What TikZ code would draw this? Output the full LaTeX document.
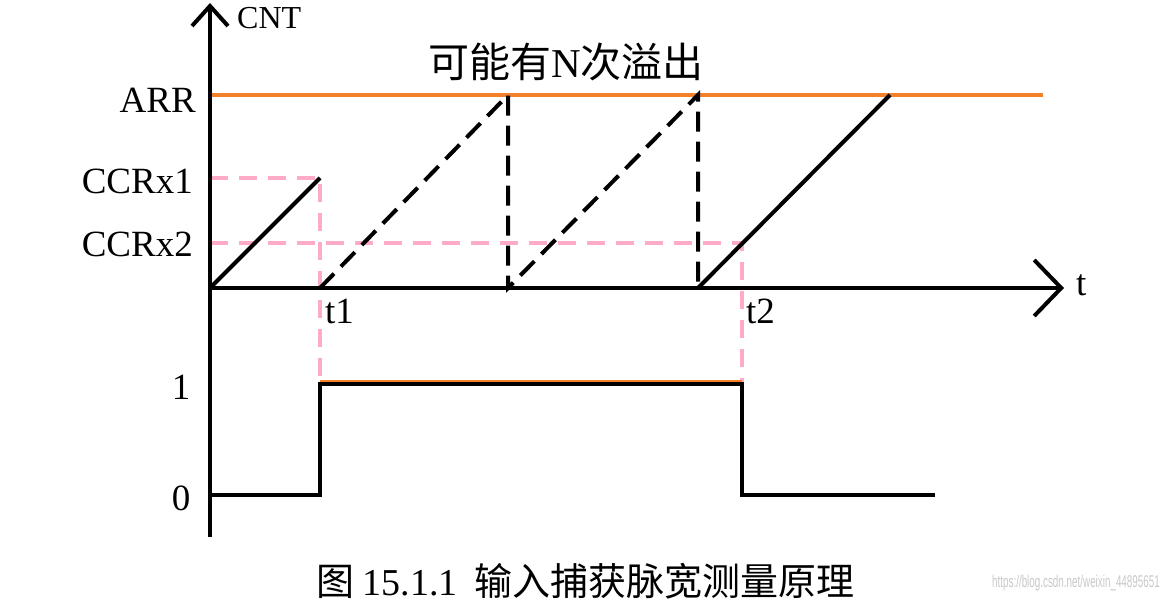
\documentclass[tikz,border=0pt]{standalone}
\usepackage{fontspec}
\setmainfont{Liberation Serif}
\newfontfamily\cjk{Noto Sans CJK SC}
\newfontfamily\wmfont{Liberation Sans}
\usetikzlibrary{arrows.meta}
\definecolor{arrorange}{RGB}{244,128,44}
\definecolor{pinkdash}{RGB}{255,170,200}
\definecolor{wmgray}{RGB}{200,200,200}
\tikzset{
  axisline/.style={line width=4pt, black},
  ramp/.style={line width=4pt, black},
  rampdash/.style={line width=4pt, black, dash pattern=on 20pt off 10pt},
  pinkline/.style={line width=3.5pt, pinkdash, dash pattern=on 18pt off 11pt},
  arrline/.style={line width=3.5pt, arrorange},
  sig/.style={line width=4pt, black, line join=miter},
  lab/.style={font=\fontsize{37}{40}\selectfont, inner sep=0pt},
  cjklab/.style={font=\cjk\fontsize{38}{42}\selectfont, inner sep=0pt},
}
\begin{document}
\begin{tikzpicture}[x=1pt,y=-1pt]
\useasboundingbox (0,0) rectangle (1168,612);
% key coordinates
\coordinate (ybot) at (210,537);
\coordinate (ytop) at (210,3);
\coordinate (org) at (210,288);
\coordinate (xend) at (1064,288);
\coordinate (arrL) at (210,95);
\coordinate (arrR) at (1043,95);
\coordinate (c1L) at (210,178);
\coordinate (c1R) at (320,178);
\coordinate (c2L) at (210,243);
\coordinate (c2R) at (742,243);
\coordinate (t1b) at (320,288);
\coordinate (t1s) at (320,384);
\coordinate (t2s) at (742,384);
\coordinate (p1top) at (508,95);
\coordinate (p1bot) at (508,288);
\coordinate (p2top) at (698,95);
\coordinate (p2bot) at (698,288);
\coordinate (p3top) at (890,95);
\coordinate (s0) at (210,495);
\coordinate (s1) at (320,495);
\coordinate (s4) at (742,495);
\coordinate (s5) at (935,495);
% pink guide lines
\draw[pinkline] (c1L) -- (c1R) -- (t1s);
\draw[pinkline] (c2L) -- (c2R) -- (t2s);
% ARR line
\draw[arrline] (arrL) -- (arrR);
% ramps
\draw[ramp] (org) -- (c1R);
\draw[rampdash] (t1b) -- (p1top) -- (p1bot) -- (p2top) -- (p2bot);
\draw[ramp] (p2bot) -- (p3top);
% signal
\draw[line width=2pt, arrorange] ([yshift=3pt]t1s) -- ([yshift=3pt]t2s);
\draw[sig] (s0) -- (s1) -- (t1s) -- (t2s) -- (s4) -- (s5);
% axes
\draw[axisline, -{Straight Barb[length=20pt,width=36pt,line width=4pt]}] (ybot) -- (ytop);
\draw[axisline, -{Straight Barb[length=27pt,width=56pt,line width=4pt]}] (org) -- (xend);
% labels
\node[lab, font=\fontsize{32}{34}\selectfont, anchor=west] (cnt) at (237,18) {CNT};
\node[lab, anchor=west] (tlab) at (1076,285) {t};
\node[lab, anchor=east] (arrlab) at (196,100) {ARR};
\node[lab, anchor=east] (c1lab) at (193,181) {CCRx1};
\node[lab, anchor=east] (c2lab) at (193,244) {CCRx2};
\node[lab, anchor=west] (t1lab) at (325,311) {t1};
\node[lab, anchor=west] (t2lab) at (746,311) {t2};
\node[lab] (onelab) at (181,387) {1};
\node[lab] (zerolab) at (181,498) {0};
\node[cjklab, font=\cjk\fontsize{41}{44}\selectfont, anchor=west] (title) at (428,62) {可能有{\fontspec{Liberation Serif}N}次溢出};
\node[cjklab, anchor=west] (caption) at (316,581) {图 {\fontspec{Liberation Serif}15.1.1}\ \ 输入捕获脉宽测量原理};
\node[font=\wmfont\fontsize{17}{18}\selectfont, text=wmgray, inner sep=0pt, anchor=east, xscale=0.58] (wm) at (1160,583) {https://blog.csdn.net/weixin\_44895651};
\end{tikzpicture}
\end{document}
